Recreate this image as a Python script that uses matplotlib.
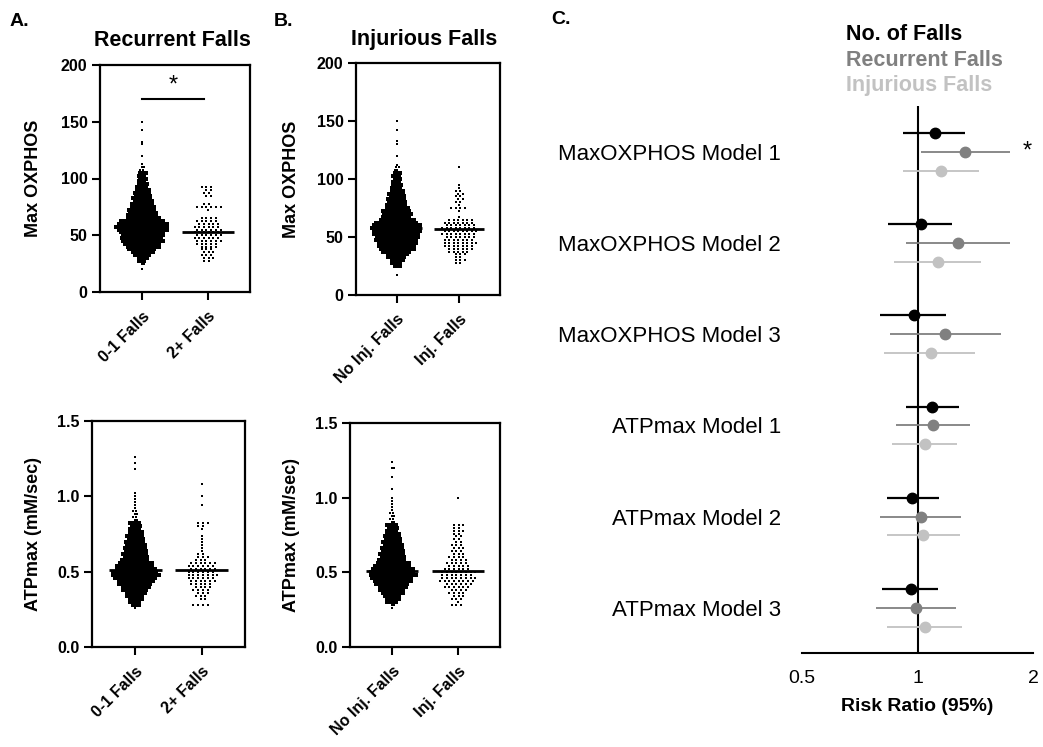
import numpy as np
import matplotlib
matplotlib.use("Agg")
import matplotlib.pyplot as plt
from matplotlib.ticker import FixedLocator, FixedFormatter, NullLocator

plt.rcParams['font.family'] = ['Liberation Sans', 'DejaVu Sans']
plt.rcParams['font.weight'] = 'bold'
plt.rcParams['axes.labelweight'] = 'bold'

# Swarm data: row values and number of dots per row
# A. Recurrent falls - Max OXPHOS
rec_ox_lo_vals = [20, 25, 27.5, 30, 32.5, 35, 37.5, 40, 42.5, 45, 47.5, 50, 52.5, 55, 57.5, 60, 62.5, 65,
                  67.5, 70, 72.5, 75, 77.5, 80, 82.5, 85, 87.5, 90, 92.5, 95, 97.5, 100, 102.5, 105, 107.5,
                  110, 112.5, 120, 130, 132.5, 142.5, 150]
rec_ox_lo_counts = [1, 2, 3, 4, 6, 8, 10, 12, 13, 15, 15, 15, 16, 18, 19, 18, 16, 12, 11, 10, 10, 9, 8, 7,
                    7, 6, 6, 5, 4, 4, 3, 3, 3, 3, 2, 2, 1, 1, 1, 1, 1, 1]
rec_ox_hi_vals = [27.5, 30, 32.5, 35, 37.5, 40, 42.5, 45, 47.5, 50, 52.5, 55, 57.5, 60, 62.5, 65, 72.5, 75,
                  77.5, 85, 87.5, 90, 92.5]
rec_ox_hi_counts = [2, 3, 3, 3, 3, 4, 5, 6, 6, 6, 6, 6, 6, 5, 5, 4, 1, 6, 2, 2, 2, 2, 3]

# A. Recurrent falls - ATPmax
rec_atp_lo_vals = [0.26, 0.28, 0.30, 0.32, 0.34, 0.36, 0.38, 0.40, 0.42, 0.44, 0.46, 0.48, 0.50, 0.52,
                   0.54, 0.56, 0.58, 0.60, 0.62, 0.64, 0.66, 0.68, 0.70, 0.72, 0.74, 0.76, 0.78, 0.80,
                   0.82, 0.84, 0.86, 0.88, 0.90, 0.92, 0.94, 0.96, 0.98, 1.00, 1.02, 1.18, 1.22, 1.26]
rec_atp_lo_counts = [1, 3, 4, 5, 6, 7, 9, 10, 12, 13, 15, 17, 16, 14, 13, 12, 10, 9, 9, 8, 8, 7, 7, 6, 6,
                     5, 4, 4, 4, 2, 2, 2, 2, 1, 1, 1, 1, 1, 1, 1, 1, 1]
rec_atp_hi_vals = [0.28, 0.32, 0.34, 0.36, 0.38, 0.40, 0.42, 0.44, 0.46, 0.48, 0.50, 0.52, 0.54, 0.56,
                   0.58, 0.60, 0.62, 0.64, 0.66, 0.68, 0.70, 0.72, 0.74, 0.78, 0.80, 0.82, 0.94, 1.00, 1.08]
rec_atp_hi_counts = [4, 2, 3, 3, 4, 4, 5, 6, 6, 7, 6, 6, 6, 6, 3, 3, 2, 1, 1, 1, 1, 1, 1, 1, 2, 3, 1, 1, 1]

# B. Injurious falls - Max OXPHOS
inj_ox_lo_vals = [17.5, 25, 27.5, 30, 32.5, 35, 37.5, 40, 42.5, 45, 47.5, 50, 52.5, 55, 57.5, 60, 62.5, 65,
                  67.5, 70, 72.5, 75, 77.5, 80, 82.5, 85, 87.5, 90, 92.5, 95, 97.5, 100, 102.5, 105, 107.5,
                  110, 112.5, 120, 130, 132.5, 142.5, 150]
inj_ox_lo_counts = [1, 3, 4, 5, 7, 8, 11, 13, 14, 15, 16, 16, 17, 18, 19, 18, 16, 13, 11, 11, 11, 9, 8, 7,
                    7, 6, 6, 5, 4, 4, 3, 3, 3, 3, 2, 2, 1, 1, 1, 1, 1, 1]
inj_ox_hi_vals = [27.5, 30, 32.5, 35, 37.5, 40, 42.5, 45, 47.5, 50, 52.5, 55, 57.5, 60, 62.5, 65, 67.5,
                  72.5, 75, 77.5, 80, 82.5, 85, 87.5, 90, 92.5, 95, 110]
inj_ox_hi_counts = [2, 3, 2, 3, 5, 6, 7, 8, 7, 7, 8, 8, 8, 7, 7, 6, 1, 1, 4, 1, 2, 2, 2, 2, 2, 1, 1, 1]

# B. Injurious falls - ATPmax
inj_atp_lo_vals = [0.26, 0.28, 0.30, 0.32, 0.34, 0.36, 0.38, 0.40, 0.42, 0.44, 0.46, 0.48, 0.50, 0.52,
                   0.54, 0.56, 0.58, 0.60, 0.62, 0.64, 0.66, 0.68, 0.70, 0.72, 0.74, 0.76, 0.78, 0.80,
                   0.82, 0.84, 0.86, 0.88, 0.90, 0.92, 0.94, 0.96, 0.98, 1.00, 1.02, 1.06, 1.14, 1.20, 1.24]
inj_atp_lo_counts = [1, 2, 4, 5, 6, 8, 9, 10, 12, 14, 15, 17, 16, 15, 13, 12, 10, 9, 9, 8, 8, 7, 7, 6, 6,
                     5, 4, 4, 4, 2, 2, 2, 2, 1, 1, 1, 1, 1, 0, 1, 1, 2, 1]
inj_atp_hi_vals = [0.28, 0.30, 0.32, 0.34, 0.36, 0.38, 0.40, 0.42, 0.44, 0.46, 0.48, 0.50, 0.52, 0.54,
                   0.56, 0.58, 0.60, 0.62, 0.64, 0.66, 0.68, 0.70, 0.72, 0.74, 0.76, 0.78, 0.80, 0.82, 1.00]
inj_atp_hi_counts = [3, 1, 3, 3, 4, 4, 6, 6, 8, 8, 7, 8, 6, 5, 5, 4, 4, 3, 3, 3, 3, 2, 2, 2, 2, 3, 2, 3, 1]

# group means
rec_ox_means = [58, 53]
inj_ox_means = [57.5, 56.5]
rec_atp_means = [0.51, 0.51]
inj_atp_means = [0.51, 0.51]

rec_labels = ['0-1 Falls', '2+ Falls']
inj_labels = ['No Inj. Falls', 'Inj. Falls']

# C. Forest plot (risk ratio, 95% CI)
models = ['MaxOXPHOS Model 1', 'MaxOXPHOS Model 2', 'MaxOXPHOS Model 3',
          'ATPmax Model 1', 'ATPmax Model 2', 'ATPmax Model 3']
rr_nfalls = [1.114, 1.02, 0.978, 1.092, 0.969, 0.959]
lo_nfalls = [0.918, 0.839, 0.798, 0.936, 0.831, 0.809]
hi_nfalls = [1.333, 1.231, 1.19, 1.281, 1.138, 1.132]
rr_rec = [1.333, 1.275, 1.182, 1.098, 1.02, 0.990]
lo_rec = [1.02, 0.931, 0.847, 0.878, 0.798, 0.779]
hi_rec = [1.738, 1.738, 1.647, 1.368, 1.301, 1.263]
rr_inj = [1.150, 1.132, 1.083, 1.049, 1.034, 1.049]
lo_inj = [0.918, 0.870, 0.819, 0.859, 0.831, 0.831]
hi_inj = [1.443, 1.461, 1.409, 1.270, 1.288, 1.309]
series_names = ['No. of Falls', 'Recurrent Falls', 'Injurious Falls']
series_colors = ['black', '#808080', '#c2c2c2']


def swarm(ax, x0, vals, counts, dx, size):
    dense_x, dense_y, sparse_x, sparse_y = [], [], [], []
    for r, (v, n) in enumerate(zip(vals, counts)):
        shift = 0.25 * dx if r % 2 else -0.25 * dx
        for k in range(n):
            x = x0 + (k - (n - 1) / 2) * dx + (shift if n > 1 else 0)
            if n > 2:
                dense_x.append(x)
                dense_y.append(v)
            else:
                sparse_x.append(x)
                sparse_y.append(v)
    ax.scatter(dense_x, dense_y, s=size, marker='s', c='black', linewidths=0, zorder=2)
    # sparse rows use the small dot
    ax.scatter(sparse_x, sparse_y, s=3.5, marker='s', c='black', linewidths=0, zorder=2)


def panel(rect, groups, means, labels, ylim, yticks, yticklabels, ylabel, lab_x):
    ax = fig.add_axes(rect)
    for i, (vals, counts, dx, size) in enumerate(groups):
        swarm(ax, i, vals, counts, dx, size)
        ax.hlines(means[i], i - 0.4, i + 0.4, color='black', lw=2, zorder=3)
    ax.set_xlim(-0.65, 1.65)
    ax.set_ylim(*ylim)
    ax.set_yticks(yticks)
    ax.set_yticklabels(yticklabels)
    ax.set_xticks([0, 1])
    ax.set_xticklabels(labels, rotation=45, ha='right', rotation_mode='anchor')
    ax.tick_params(axis='both', direction='out', length=6, width=1.5, labelsize=11.5, pad=3)
    ax.tick_params(axis='x', pad=6)
    for s in ax.spines.values():
        s.set_linewidth(1.6)
    ax.set_ylabel(ylabel, fontsize=13)
    ax.yaxis.set_label_coords(lab_x, 0.5)
    return ax


fig = plt.figure(figsize=(10.43, 7.47), dpi=100)
W, H = 1043, 747


def rect(l, t, r, b):
    return [l / W, 1 - b / H, (r - l) / W, (b - t) / H]


big = (0.043, 8)
small = (0.072, 3.5)

axA1 = panel(rect(100, 65, 250, 292),
             [(rec_ox_lo_vals, rec_ox_lo_counts) + big, (rec_ox_hi_vals, rec_ox_hi_counts) + small],
             rec_ox_means, rec_labels, (0, 200), [0, 50, 100, 150, 200],
             ['0', '50', '100', '150', '200'], 'Max OXPHOS', -0.39)
axA1.plot([0, 0.94], [170, 170], color='black', lw=1.5)
axA1.text(0.47, 172, '*', ha='center', va='bottom', fontsize=17, fontweight='normal')

axB1 = panel(rect(356, 63, 500, 295),
             [(inj_ox_lo_vals, inj_ox_lo_counts) + big, (inj_ox_hi_vals, inj_ox_hi_counts) + small],
             inj_ox_means, inj_labels, (0, 200), [0, 50, 100, 150, 200],
             ['0', '50', '100', '150', '200'], 'Max OXPHOS', -0.39)

axA2 = panel(rect(92, 421, 245, 647),
             [(rec_atp_lo_vals, rec_atp_lo_counts) + big, (rec_atp_hi_vals, rec_atp_hi_counts) + small],
             rec_atp_means, rec_labels, (0, 1.5), [0, 0.5, 1.0, 1.5],
             ['0.0', '0.5', '1.0', '1.5'], 'ATPmax (mM/sec)', -0.33)

axB2 = panel(rect(350, 423, 500, 647),
             [(inj_atp_lo_vals, inj_atp_lo_counts) + big, (inj_atp_hi_vals, inj_atp_hi_counts) + small],
             inj_atp_means, inj_labels, (0, 1.5), [0, 0.5, 1.0, 1.5],
             ['0.0', '0.5', '1.0', '1.5'], 'ATPmax (mM/sec)', -0.33)

fig.text(172 / W, 1 - 40 / H, 'Recurrent Falls', ha='center', va='center', fontsize=15.5)
fig.text(424 / W, 1 - 40 / H, 'Injurious Falls', ha='center', va='center', fontsize=15.5)
fig.text(10 / W, 1 - 22 / H, 'A.', ha='left', va='center', fontsize=14)
fig.text(274 / W, 1 - 22 / H, 'B.', ha='left', va='center', fontsize=14)
fig.text(551 / W, 1 - 20 / H, 'C.', ha='left', va='center', fontsize=14)

# Forest plot
axC = fig.add_axes(rect(802, 106, 1033, 653))
sub = 0.206
all_rr = [rr_nfalls, rr_rec, rr_inj]
all_lo = [lo_nfalls, lo_rec, lo_inj]
all_hi = [hi_nfalls, hi_rec, hi_inj]
for j in range(3):
    ys = [i + j * sub for i in range(len(models))]
    lw = 1.6 if j == 0 else 1.3
    axC.hlines(ys, all_lo[j], all_hi[j], color=series_colors[j], lw=lw, zorder=2)
    axC.plot(all_rr[j], ys, 'o', color=series_colors[j], markersize=7.5, zorder=3)
axC.axvline(1, color='black', lw=1.5, zorder=1)
axC.set_xscale('log', base=2)
axC.set_xlim(0.5, 2)
axC.set_ylim(5.70, -0.296)
axC.xaxis.set_major_locator(FixedLocator([0.5, 1, 2]))
axC.xaxis.set_major_formatter(FixedFormatter(['0.5', '1', '2']))
axC.xaxis.set_minor_locator(NullLocator())
axC.set_yticks([i + sub for i in range(len(models))])
axC.set_yticklabels(models, fontsize=16, fontweight='normal')
axC.tick_params(axis='y', length=0, pad=15)
axC.tick_params(axis='x', length=0, pad=12, labelsize=14)
for lab in axC.get_xticklabels():
    lab.set_fontweight('normal')
for s in ['left', 'top', 'right']:
    axC.spines[s].set_visible(False)
axC.spines['bottom'].set_linewidth(1.5)
axC.set_xlabel('Risk Ratio (95%)', fontsize=14, labelpad=8)
axC.text(1.93, 1 * sub, '*', ha='center', va='center', fontsize=17, fontweight='normal')

for k, (name, col) in enumerate(zip(series_names, series_colors)):
    fig.text(846 / W, 1 - (35 + 25.5 * k) / H, name, color=col, ha='left', va='center', fontsize=15.5)

fig.savefig('out.png', dpi=100)
